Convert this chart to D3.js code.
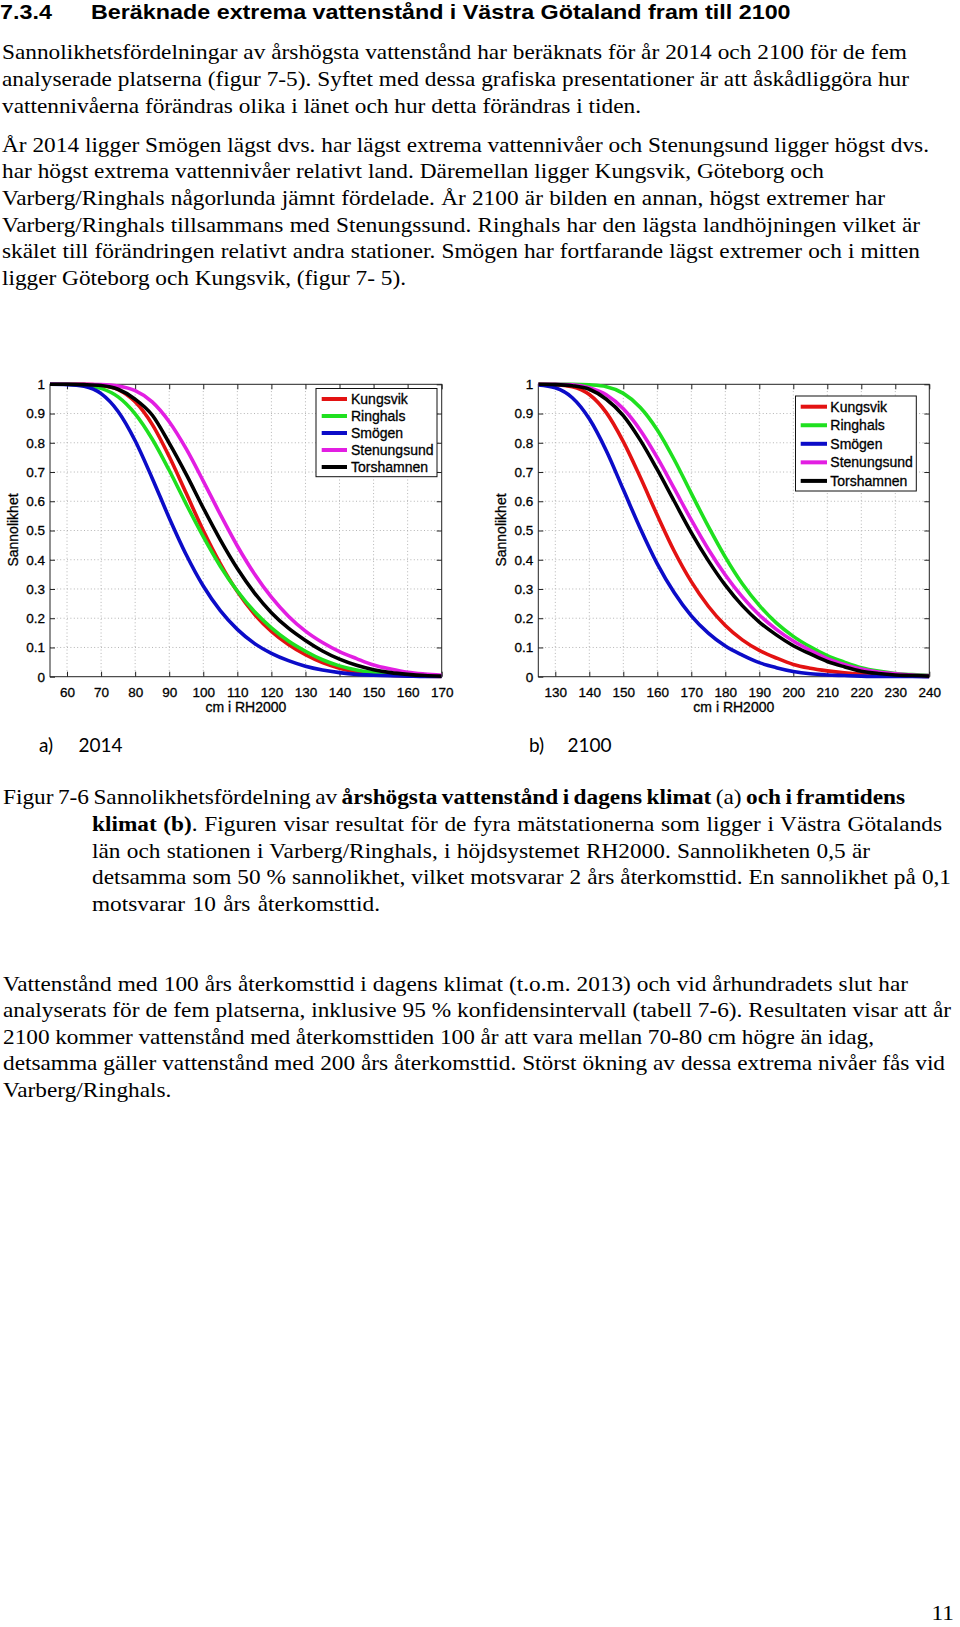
<!DOCTYPE html>
<html><head><meta charset="utf-8">
<script src="https://cdn.jsdelivr.net/npm/d3@7"></script>
<style>body{margin:0;background:#fff}svg{display:block}</style>
</head><body>
<svg id="page" width="960" height="1627"></svg>
<script>
// ---------- data ----------
const stations = ["Kungsvik","Ringhals","Smögen","Stenungsund","Torshamnen"];
const stationColors = ["#e31212","#1fe01f","#0c0cc8","#e21ee2","#000000"];

const levels2014 = [55,60,65,70,75,80,85,90,95,100,105,110,115,120,125,130,135,140,145,150,155,160,165,170];
const kungsvik2014   = [1.000,1.000,1.000,0.996,0.982,0.940,0.863,0.753,0.627,0.500,0.387,0.291,0.214,0.155,0.110,0.075,0.048,0.029,0.016,0.009,0.005,0.003,0.002,0.001];
const ringhals2014   = [1.000,1.000,0.997,0.986,0.957,0.899,0.813,0.706,0.590,0.479,0.378,0.293,0.223,0.167,0.122,0.087,0.058,0.037,0.023,0.014,0.009,0.006,0.004,0.003];
const smogen2014     = [1.000,0.999,0.993,0.968,0.907,0.807,0.679,0.543,0.417,0.310,0.226,0.162,0.114,0.080,0.055,0.036,0.023,0.014,0.008,0.005,0.003,0.002,0.001,0.001];
const stenungsund2014= [1.000,1.000,1.000,0.999,0.994,0.978,0.940,0.872,0.779,0.669,0.555,0.447,0.352,0.272,0.207,0.156,0.117,0.086,0.062,0.040,0.026,0.015,0.009,0.005];
const torshamnen2014 = [1.000,1.000,0.999,0.996,0.983,0.949,0.895,0.799,0.692,0.577,0.468,0.370,0.287,0.219,0.166,0.124,0.088,0.060,0.039,0.024,0.014,0.008,0.004,0.002];

const levels2100 = [125,130,135,140,145,150,155,160,165,170,175,180,185,190,195,200,205,210,215,220,225,230,235,240];
const kungsvik2100   = [1.000,0.999,0.992,0.965,0.903,0.804,0.682,0.552,0.429,0.325,0.241,0.175,0.126,0.090,0.064,0.042,0.029,0.020,0.013,0.008,0.005,0.003,0.002,0.001];
const ringhals2100   = [1.000,1.000,1.000,0.998,0.992,0.969,0.921,0.844,0.742,0.627,0.514,0.409,0.318,0.244,0.184,0.138,0.102,0.072,0.050,0.031,0.019,0.011,0.007,0.004];
const smogen2100     = [0.998,0.988,0.954,0.882,0.773,0.640,0.507,0.386,0.287,0.208,0.149,0.105,0.074,0.048,0.031,0.018,0.010,0.006,0.004,0.002,0.001,0.001,0.001,0.000];
const stenungsund2100= [1.000,1.000,0.998,0.988,0.964,0.916,0.843,0.749,0.643,0.536,0.436,0.348,0.273,0.211,0.162,0.122,0.090,0.062,0.042,0.026,0.016,0.010,0.006,0.004];
const torshamnen2100 = [1.000,0.999,0.995,0.983,0.949,0.893,0.809,0.708,0.600,0.493,0.397,0.313,0.243,0.187,0.143,0.106,0.078,0.052,0.034,0.019,0.011,0.006,0.004,0.002];

const xTicks2014 = [60,70,80,90,100,110,120,130,140,150,160,170];
const xTicks2100 = [130,140,150,160,170,180,190,200,210,220,230,240];
const yTicks = [0,0.1,0.2,0.3,0.4,0.5,0.6,0.7,0.8,0.9,1];
const yTickLabels = ["0","0.1","0.2","0.3","0.4","0.5","0.6","0.7","0.8","0.9","1"];
const xAxisTitle = "cm i RH2000";
const yAxisTitle = "Sannolikhet";

// ---------- page ----------
const svg = d3.select("#page");
const serif = "'Liberation Serif','Times New Roman',serif";
const sans = "'Liberation Sans',Arial,sans-serif";

function norm(p) { return typeof p === "string" ? {t: p, b: false} : p; }
function measure(parts, size, family, weight) {
  const t = svg.append("text").attr("font-family", family).attr("font-size", size)
    .attr("font-weight", weight || "normal").attr("xml:space", "preserve");
  parts.map(norm).forEach(s => t.append("tspan").text(s.t).attr("font-weight", s.b ? "bold" : null));
  const w = t.node().getComputedTextLength();
  t.remove();
  return w;
}
function textLine(x, y, target, parts, size, family, sx, weight) {
  const t = svg.append("text").attr("transform", `translate(${x},${y}) scale(${sx},1)`)
    .attr("font-family", family).attr("font-size", size).attr("fill", "#000")
    .attr("font-weight", weight || "normal").attr("xml:space", "preserve");
  parts.map(norm).forEach(s => t.append("tspan").text(s.t).attr("font-weight", s.b ? "bold" : null));
  if (target) {
    const nat = t.node().getComputedTextLength();
    const full = parts.map(p => norm(p).t).join("");
    const spaces = (full.match(/ /g) || []).length;
    if (spaces > 0) t.attr("word-spacing", ((target / sx - nat) / spaces).toFixed(3));
  }
  return t;
}

// heading
const headText = "Beräknade extrema vattenstånd i Västra Götaland fram till 2100";
const headSx = 700 / measure([headText], 19.5, sans, "bold");
textLine(0, 19, null, ["7.3.4"], 19.5, sans, headSx, "bold");
textLine(91, 19, null, [headText], 19.5, sans, headSx, "bold");

const para1 = [
  [59, 905, "Sannolikhetsfördelningar av årshögsta vattenstånd har beräknats för år 2014 och 2100 för de fem"],
  [86, 907, "analyserade platserna (figur 7-5). Syftet med dessa grafiska presentationer är att åskådliggöra hur"],
  [112.7, 639, "vattennivåerna förändras olika i länet och hur detta förändras i tiden."],
  [151.7, 927, "År 2014 ligger Smögen lägst dvs. har lägst extrema vattennivåer och Stenungsund ligger högst dvs."],
  [178.3, 822, "har högst extrema vattennivåer relativt land. Däremellan ligger Kungsvik, Göteborg och"],
  [205, 883, "Varberg/Ringhals någorlunda jämnt fördelade. År 2100 är bilden en annan, högst extremer har"],
  [231.7, 918, "Varberg/Ringhals tillsammans med Stenungssund. Ringhals har den lägsta landhöjningen vilket är"],
  [258.3, 918, "skälet till förändringen relativt andra stationer. Smögen har fortfarande lägst extremer och i mitten"],
  [285, 404, "ligger Göteborg och Kungsvik, (figur 7- 5)."]
];
// horizontal glyph scale of the body text, taken from two unjustified last lines
const bodySx = (639 + 404) / (measure([para1[2][2]], 20, serif) + measure([para1[8][2]], 20, serif));
para1.forEach(([y, w, s]) => textLine(2, y, w, [s], 20, serif, bodySx));

// caption
textLine(3, 804, 902, ["Figur 7-6 Sannolikhetsfördelning av ", {t:"årshögsta vattenstånd i dagens klimat ", b:true}, "(a)", {t:" och i framtidens", b:true}], 20, serif, bodySx);
textLine(92, 831, 850, [{t:"klimat (b)", b:true}, ". Figuren visar resultat för de fyra mätstationerna som ligger i Västra Götalands"], 20, serif, bodySx);
textLine(92, 858, 778, ["län och stationen i Varberg/Ringhals, i höjdsystemet RH2000. Sannolikheten 0,5 är"], 20, serif, bodySx);
textLine(92, 884, 859, ["detsamma som 50 % sannolikhet, vilket motsvarar 2 års återkomsttid. En sannolikhet på 0,1"], 20, serif, bodySx);
textLine(92, 911, 288, ["motsvarar 10 års återkomsttid."], 20, serif, bodySx);

const para3 = [
  [991, 905, "Vattenstånd med 100 års återkomsttid i dagens klimat (t.o.m. 2013) och vid århundradets slut har"],
  [1017, 948, "analyserats för de fem platserna, inklusive 95 % konfidensintervall (tabell 7-6). Resultaten visar att år"],
  [1044, 871, "2100 kommer vattenstånd med återkomsttiden 100 år att vara mellan 70-80 cm högre än idag,"],
  [1070, 942, "detsamma gäller vattenstånd med 200 års återkomsttid. Störst ökning av dessa extrema nivåer fås vid"],
  [1097, 170, "Varberg/Ringhals."]
];
para3.forEach(([y, w, s]) => textLine(3, y, w, [s], 20, serif, bodySx));

// sub labels
const sub = "'Lato','Open Sans',sans-serif";
[[39, "a)"], [78.5, "2014"], [529, "b)"], [567.5, "2100"]].forEach(([x, s]) =>
  svg.append("text").attr("x", x).attr("y", 752).attr("font-family", sub).attr("font-size", 19).text(s));

svg.append("text").attr("transform", `translate(954,1620) scale(${bodySx},1)`).attr("text-anchor", "end")
  .attr("font-family", serif).attr("font-size", 20).text("11");

// ---------- charts ----------
function drawChart(cfg) {
  const {left, right, top, bottom, domain, xTicks, levels, series, legend, labelX} = cfg;
  const x = d3.scaleLinear().domain(domain).range([left, right]);
  const y = d3.scaleLinear().domain([0, 1]).range([bottom, top]);
  const g = svg.append("g");
  const clipId = "clip" + Math.round(left);
  g.append("clipPath").attr("id", clipId).append("rect")
    .attr("x", left).attr("y", top - 3).attr("width", right - left).attr("height", bottom - top + 6);

  // grid
  const grid = g.append("g").attr("stroke", "#b4b4b4").attr("stroke-width", 1).attr("stroke-dasharray", "1,2.4");
  grid.selectAll("line.v").data(xTicks.filter(v => x(v) > left + 1 && x(v) < right - 1)).join("line")
    .attr("x1", d => x(d)).attr("x2", d => x(d)).attr("y1", top).attr("y2", bottom);
  grid.selectAll("line.h").data(yTicks.filter(v => v > 0 && v < 1)).join("line")
    .attr("x1", left).attr("x2", right).attr("y1", d => y(d)).attr("y2", d => y(d));

  // axes (inward ticks on all sides)
  const fs = 13.5;
  const ax = g.append("g").attr("transform", `translate(0,${bottom})`)
    .call(d3.axisBottom(x).tickValues(xTicks).tickSize(-5).tickSizeOuter(0).tickPadding(11));
  const ay = g.append("g").attr("transform", `translate(${left},0)`)
    .call(d3.axisLeft(y).tickValues(yTicks).tickFormat((d, i) => yTickLabels[i]).tickSize(-5).tickSizeOuter(0).tickPadding(5));
  const at = g.append("g").attr("transform", `translate(0,${top})`)
    .call(d3.axisTop(x).tickValues(xTicks).tickSize(-5).tickSizeOuter(0).tickFormat(""));
  const ar = g.append("g").attr("transform", `translate(${right},0)`)
    .call(d3.axisRight(y).tickValues(yTicks).tickSize(-5).tickSizeOuter(0).tickFormat(""));
  [ax, ay, at, ar].forEach(a => {
    a.select(".domain").remove();
    a.selectAll("line").attr("stroke", "#222");
    a.selectAll("text").attr("font-family", sans).attr("font-size", fs).attr("fill", "#000")
      .attr("stroke", "#000").attr("stroke-width", 0.3);
  });
  g.append("rect").attr("x", left).attr("y", top).attr("width", right - left).attr("height", bottom - top)
    .attr("fill", "none").attr("stroke", "#222").attr("stroke-width", 1);

  // curves
  const line = d3.line().x(d => x(d[0])).y(d => y(d[1])).curve(d3.curveMonotoneX);
  series.forEach((vals, i) => {
    g.append("path").attr("clip-path", `url(#${clipId})`)
      .datum(levels.map((l, j) => [l, vals[j]]))
      .attr("d", line).attr("fill", "none").attr("stroke", stationColors[i])
      .attr("stroke-width", 3.6).attr("stroke-linejoin", "round");
  });

  // axis titles
  g.append("text").attr("x", (left + right) / 2).attr("y", 711.7).attr("text-anchor", "middle")
    .attr("font-family", sans).attr("font-size", 14).attr("stroke", "#000").attr("stroke-width", 0.3).text(xAxisTitle);
  g.append("text").attr("transform", `translate(${labelX},530) rotate(-90)`).attr("text-anchor", "middle")
    .attr("font-family", sans).attr("font-size", 14).attr("stroke", "#000").attr("stroke-width", 0.3).text(yAxisTitle);

  // legend
  const L = legend;
  g.append("rect").attr("x", L.x0).attr("y", L.y0).attr("width", L.x1 - L.x0).attr("height", L.y1 - L.y0)
    .attr("fill", "#fff").attr("stroke", "#111").attr("stroke-width", 1);
  stations.forEach((s, i) => {
    const yy = L.firstY + i * L.step;
    g.append("line").attr("x1", L.lx0).attr("x2", L.lx1).attr("y1", yy).attr("y2", yy)
      .attr("stroke", stationColors[i]).attr("stroke-width", 4);
    g.append("text").attr("x", L.tx).attr("y", yy).attr("dy", "0.36em")
      .attr("font-family", sans).attr("font-size", 14).attr("stroke", "#000").attr("stroke-width", 0.3).text(s);
  });
}

drawChart({
  left: 50, right: 441.7, top: 384.3, bottom: 676.7, domain: [55, 170],
  xTicks: xTicks2014, levels: levels2014,
  series: [kungsvik2014, ringhals2014, smogen2014, stenungsund2014, torshamnen2014],
  legend: {x0: 316, x1: 437, y0: 388.5, y1: 476.7, firstY: 399, step: 17, lx0: 321.7, lx1: 347, tx: 351},
  labelX: 18
});
drawChart({
  left: 538.3, right: 929.3, top: 384.3, bottom: 676.7, domain: [125, 240],
  xTicks: xTicks2100, levels: levels2100,
  series: [kungsvik2100, ringhals2100, smogen2100, stenungsund2100, torshamnen2100],
  legend: {x0: 795.5, x1: 916.3, y0: 396, y1: 491, firstY: 406.7, step: 18.55, lx0: 800.7, lx1: 827, tx: 830.3},
  labelX: 505.5
});
</script>
</body></html>
